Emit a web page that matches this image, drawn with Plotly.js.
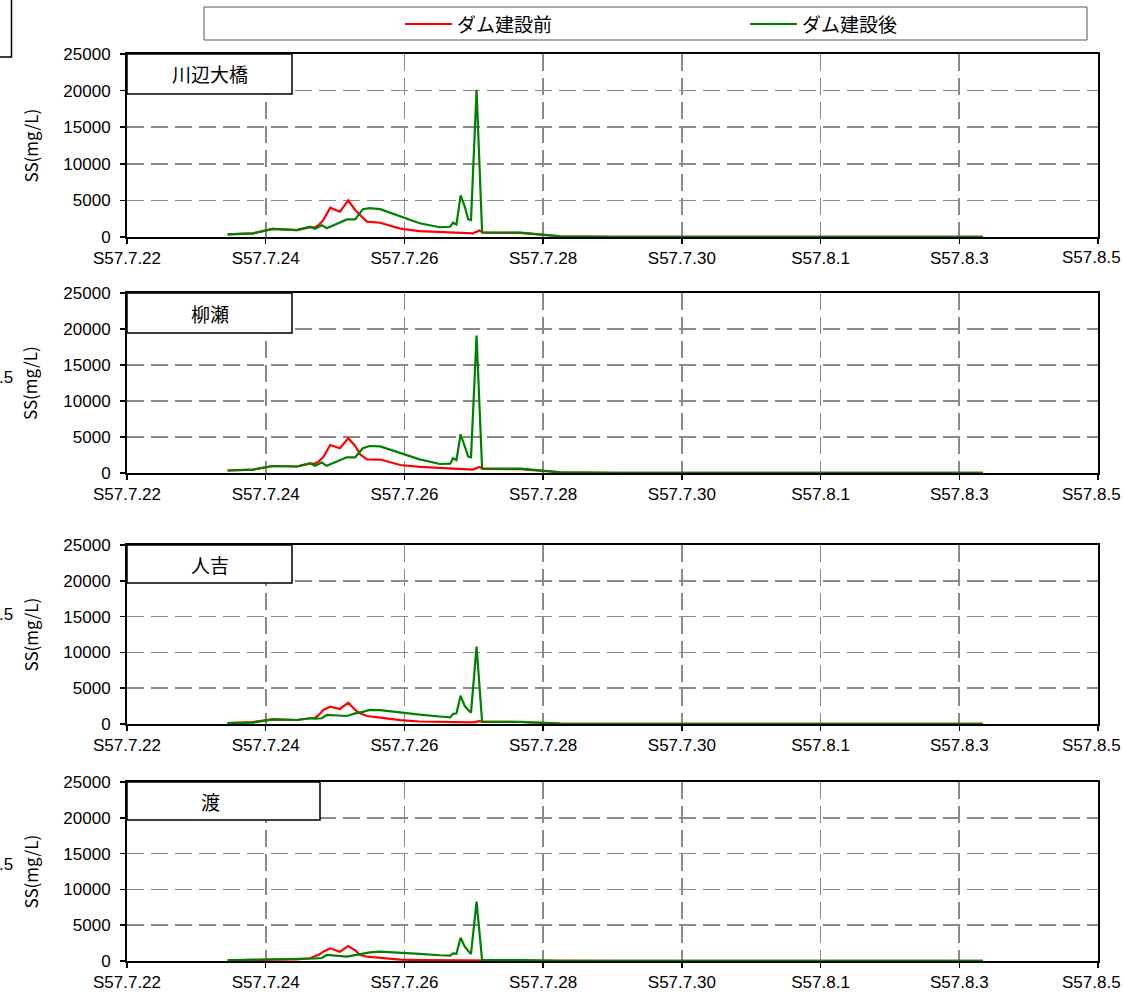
<!DOCTYPE html>
<html><head><meta charset="utf-8">
<script src="https://cdn.plot.ly/plotly-3.0.1.min.js"></script>
<style>html,body{margin:0;padding:0;background:#fff;}#chart{width:1124px;height:995px;}</style>
</head><body><div id="chart"></div>
<script>
// time in days after S57.7.22 0:00
const tickVals = [0, 2, 4, 6, 8, 10, 12, 14];
const tickText = ['S57.7.22', 'S57.7.24', 'S57.7.26', 'S57.7.28', 'S57.7.30', 'S57.8.1', 'S57.8.3', 'S57.8.5'];
const seriesNames = ['ダム建設前', 'ダム建設後'];
const stations = ['川辺大橋', '柳瀬', '人吉', '渡'];
const fragmentText = '.5';

const tRed = [1.45, 1.82, 2.1, 2.45, 2.64, 2.71, 2.77, 2.83, 2.93, 3.07, 3.19, 3.29, 3.36, 3.46, 3.65, 3.94, 4.22, 4.51, 4.80, 4.99, 5.08, 5.13, 5.67, 6.03, 6.25, 7.0, 9.0, 12.34];
const tGreen = [1.45, 1.82, 2.1, 2.45, 2.64, 2.71, 2.81, 2.88, 3.17, 3.29, 3.4, 3.5, 3.65, 3.94, 4.22, 4.51, 4.66, 4.70, 4.75, 4.81, 4.87, 4.92, 4.96, 5.04, 5.12, 5.67, 6.03, 6.25, 7.0, 9.0, 12.34];

const redKawabe = [370, 500, 1100, 950, 1350, 1300, 1700, 2300, 4000, 3450, 5000, 3700, 3000, 2100, 1950, 1150, 800, 720, 600, 500, 900, 600, 550, 250, 100, 30, 10, 5];
const redYanase = [350, 480, 970, 900, 1300, 1300, 1650, 2200, 3890, 3430, 4820, 3750, 2600, 1900, 1870, 1110, 850, 720, 600, 480, 850, 580, 520, 240, 100, 30, 10, 5];
const redHitoyoshi = [140, 270, 650, 560, 800, 850, 1300, 1960, 2420, 2100, 2980, 1960, 1490, 1120, 900, 550, 350, 300, 240, 220, 400, 300, 280, 150, 60, 20, 10, 5];
const redWatari = [100, 150, 220, 230, 380, 600, 900, 1300, 1770, 1300, 2100, 1500, 840, 600, 450, 190, 120, 100, 90, 90, 150, 120, 100, 60, 40, 15, 8, 5];

const greenKawabe = [370, 500, 1100, 950, 1400, 1130, 1600, 1200, 2400, 2400, 3800, 3950, 3800, 2800, 1870, 1330, 1400, 1950, 1700, 5700, 4150, 2400, 2300, 20100, 640, 600, 300, 100, 30, 10, 5];
const greenYanase = [350, 480, 970, 900, 1350, 1000, 1450, 1000, 2180, 2180, 3430, 3750, 3700, 2820, 1900, 1250, 1300, 2040, 1800, 5380, 3500, 2270, 2180, 19100, 650, 600, 300, 100, 30, 10, 5];
const greenHitoyoshi = [140, 200, 650, 560, 800, 750, 800, 1260, 1120, 1490, 1700, 1960, 1950, 1600, 1300, 1050, 930, 1400, 1490, 3960, 2500, 1960, 1580, 10800, 320, 300, 150, 60, 20, 10, 5];
const greenWatari = [100, 150, 250, 280, 300, 350, 420, 840, 600, 800, 1000, 1210, 1300, 1200, 1000, 800, 740, 1070, 1000, 3260, 2000, 1400, 980, 8280, 120, 120, 60, 30, 15, 8, 5];

const redSets = [redKawabe, redYanase, redHitoyoshi, redWatari];
const greenSets = [greenKawabe, greenYanase, greenHitoyoshi, greenWatari];

const W = 1124, H = 995, ML = 127, MR = 26;
const PW = W - ML - MR;
const px2x = p => (p - ML) / PW;
const py2y = p => 1 - p / H;

// panel pixel extents [top, bottom]; label box [right, bottom]
const panelPx = [[54, 237], [293, 473], [545, 724], [782, 961]];
const boxPx = [[292, 94], [292, 333], [292, 583], [320, 820]];

const tickFontX = {family: 'Liberation Sans, Arial, sans-serif', size: 17, color: '#000'};
const tickFontY = {family: 'Liberation Sans, Arial, sans-serif', size: 17, color: '#000'};
const jp = 'Noto Sans CJK JP, sans-serif';

// last tick label sits at the right edge: drawn separately so it stays inside the page
const axisTickText = tickText.slice(0, -1).concat(['']);

const data = [];
const layout = {
  width: W, height: H,
  margin: {l: ML, r: MR, t: 0, b: 0},
  paper_bgcolor: '#fff', plot_bgcolor: '#fff',
  showlegend: false,
  shapes: [], annotations: []
};

for (let i = 0; i < 4; i++) {
  const xa = i === 0 ? 'x' : 'x' + (i + 1);
  const ya = i === 0 ? 'y' : 'y' + (i + 1);
  const xk = i === 0 ? 'xaxis' : 'xaxis' + (i + 1);
  const yk = i === 0 ? 'yaxis' : 'yaxis' + (i + 1);
  data.push({x: tRed, y: redSets[i], xaxis: xa, yaxis: ya, type: 'scatter', mode: 'lines',
    name: seriesNames[0], line: {color: '#ff0000', width: 2.2}});
  data.push({x: tGreen, y: greenSets[i], xaxis: xa, yaxis: ya, type: 'scatter', mode: 'lines',
    name: seriesNames[1], line: {color: '#008000', width: 2.2}});
  const common = {showline: true, linecolor: '#000', linewidth: 2, mirror: true,
    showgrid: true, gridcolor: '#8a8a8a', gridwidth: 1.6, griddash: '17px,7px',
    zeroline: false, ticks: 'outside', ticklen: 5, tickwidth: 1.5, tickcolor: '#000',
    automargin: false, fixedrange: true};
  layout[xk] = Object.assign({}, common, {
    anchor: ya, domain: [0, 1], range: [0, 14], tickmode: 'array',
    tickvals: tickVals, ticktext: axisTickText, tickfont: tickFontX
  });
  layout[yk] = Object.assign({}, common, {
    anchor: xa, domain: [py2y(panelPx[i][1]), py2y(panelPx[i][0])],
    range: [0, 25000], tickmode: 'linear', tick0: 0, dtick: 5000, tickformat: 'd',
    tickfont: tickFontY, ticklabelstandoff: 6
  });
  // right-edge tick label
  layout.annotations.push({xref: 'paper', yref: 'paper', showarrow: false,
    x: px2x(1123), y: py2y(panelPx[i][1] + 21), xanchor: 'right', yanchor: 'middle',
    text: tickText[tickText.length - 1], font: tickFontX});
  // station label box
  layout.shapes.push({type: 'rect', xref: 'paper', yref: 'paper', layer: 'above',
    x0: px2x(127), x1: px2x(boxPx[i][0]), y0: py2y(boxPx[i][1]), y1: py2y(panelPx[i][0]),
    fillcolor: '#fff', line: {color: '#000', width: 1.5}});
  layout.annotations.push({xref: 'paper', yref: 'paper', showarrow: false,
    x: px2x(210), y: py2y((panelPx[i][0] + boxPx[i][1]) / 2), xanchor: 'center', yanchor: 'middle',
    text: stations[i], font: {family: jp, size: 19, color: '#000'}});
  // y axis title
  layout.annotations.push({xref: 'paper', yref: 'paper', showarrow: false,
    x: px2x(30), y: py2y((panelPx[i][0] + panelPx[i][1]) / 2), xanchor: 'center', yanchor: 'middle',
    textangle: -90, text: 'SS(mg/L)', font: {family: jp, size: 17, color: '#000'}});
}

// legend box
layout.shapes.push({type: 'rect', xref: 'paper', yref: 'paper', layer: 'above',
  x0: px2x(204), x1: px2x(1087), y0: py2y(40), y1: py2y(7),
  fillcolor: '#fff', line: {color: '#555', width: 1}});
const legLine = [[405, 452, '#ff0000'], [750, 797, '#008000']];
for (let k = 0; k < 2; k++) {
  layout.shapes.push({type: 'line', xref: 'paper', yref: 'paper', layer: 'above',
    x0: px2x(legLine[k][0]), x1: px2x(legLine[k][1]), y0: py2y(24), y1: py2y(24),
    line: {color: legLine[k][2], width: 2.2}});
  layout.annotations.push({xref: 'paper', yref: 'paper', showarrow: false,
    x: px2x(legLine[k][1] + 3), y: py2y(24), xanchor: 'left', yanchor: 'middle',
    text: seriesNames[k], font: {family: jp, size: 19, color: '#000'}});
}

// partial frame at top left (neighbouring chart)
layout.shapes.push({type: 'rect', xref: 'paper', yref: 'paper', layer: 'above',
  x0: px2x(-5), x1: px2x(11.5), y0: py2y(57), y1: py2y(-5),
  fillcolor: 'rgba(0,0,0,0)', line: {color: '#000', width: 1.5}});
// tick label fragments of neighbouring chart
const fragPx = [[15, 377], [15, 614], [15, 864]];
for (const f of fragPx) {
  layout.annotations.push({xref: 'paper', yref: 'paper', showarrow: false,
    x: px2x(f[0]), y: py2y(f[1]), xanchor: 'right', yanchor: 'middle',
    text: fragmentText, font: tickFontX});
}

Plotly.newPlot('chart', data, layout, {staticPlot: true, displayModeBar: false});
</script></body></html>
